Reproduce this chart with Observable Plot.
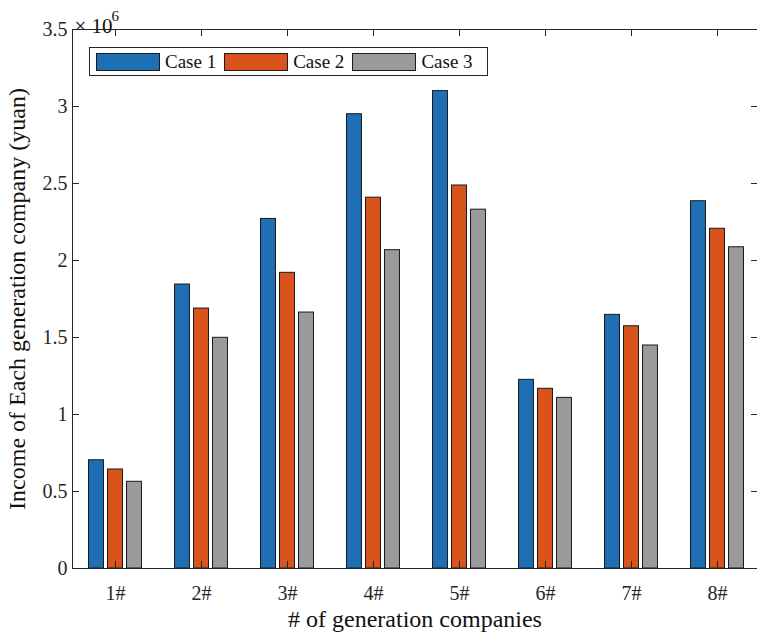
<!DOCTYPE html>
<html>
<head>
<meta charset="utf-8">
<script src="https://cdn.jsdelivr.net/npm/d3@7"></script>
<script src="https://cdn.jsdelivr.net/npm/@observablehq/plot@0.6"></script>
<style>
  html, body { margin: 0; padding: 0; background: #fff; }
  #wrap { position: relative; width: 757px; height: 637px; overflow: hidden; font-family: "Liberation Serif", "Times New Roman", serif; }
  #legend { position: absolute; left: 89px; top: 47px; border: 1px solid #262626; background: #fff;
            display: flex; align-items: center; padding-left: 6px; box-sizing: border-box; width: 399px; height: 29px; }
  .item { display: flex; align-items: center; margin-right: 8px; }
  .sw { border: 1px solid #1a1a1a; box-sizing: border-box; width: 64px; height: 18px; }
  .lbl { margin-left: 5px; font-size: 19px; color: #111; line-height: 1; }
</style>
</head>
<body>
<div id="wrap"></div>
<script>
// ---- data ----
const companies = ["1#", "2#", "3#", "4#", "5#", "6#", "7#", "8#"];
const cases = ["Case 1", "Case 2", "Case 3"];
const case1 = [703000, 1844000, 2270000, 2950000, 3100000, 1225000, 1647000, 2385000];
const case2 = [643000, 1688000, 1920000, 2408000, 2487000, 1167000, 1573000, 2206000];
const case3 = [563000, 1498000, 1662000, 2067000, 2330000, 1108000, 1448000, 2086000];
const colors = ["#1f6fb4", "#d9541a", "#9a9a9a"];
const yTicks = [0, 500000, 1000000, 1500000, 2000000, 2500000, 3000000, 3500000];

// ---- grouped table ----
const series = [case1, case2, case3];
const gap = 0.221, half = 0.087;
const rows = [];
series.forEach((vals, k) => vals.forEach((v, i) => {
  const c = (i + 1) + (k - 1) * gap;
  rows.push({company: companies[i], case: cases[k], value: v, x1: c - half, x2: c + half});
}));
const xTicks = companies.map((_, i) => i + 1);
const axisColor = "#262626";

const chart = Plot.plot({
  width: 757,
  height: 637,
  marginLeft: 72,
  marginRight: 0,
  marginTop: 29,
  marginBottom: 69,
  style: {fontFamily: "'Liberation Serif', 'Times New Roman', serif", fontSize: "20px", color: axisColor, background: "#fff", overflow: "visible"},
  x: {domain: [0.5, 8.5], range: [72, 760]},
  y: {domain: [0, 3500000], range: [568, 29]},
  color: {domain: cases, range: colors},
  marks: [
    Plot.rectY(rows, {x1: "x1", x2: "x2", y: "value", fill: "case", stroke: "#1a1a1a", strokeWidth: 1}),
    // box lines
    Plot.ruleY([0, 3500000], {stroke: axisColor, strokeWidth: 1}),
    Plot.ruleX([0.5], {stroke: axisColor, strokeWidth: 1}),
    // x axis: labels + inward ticks (bottom and top)
    Plot.axisX(xTicks, {anchor: "bottom", tickSize: -7, tickPadding: 24, tickFormat: (d) => companies[d - 1], label: null, stroke: axisColor, fill: axisColor, fontSize: 20}),
    Plot.axisX(xTicks, {anchor: "top", tickSize: -6, fill: "none", label: null, stroke: axisColor}),
    // y axis: labels + inward ticks (left and right)
    Plot.axisY(yTicks, {anchor: "left", tickSize: -7, tickPadding: 12, tickFormat: (d) => d3.format("")(d / 1e6), label: null, stroke: axisColor, fill: axisColor, fontSize: 20}),
    Plot.axisY(yTicks, {anchor: "right", tickSize: -7, fill: "none", label: null, stroke: axisColor}),
    // axis titles
    Plot.text(["# of generation companies"], {frameAnchor: "bottom", dy: 58, fontSize: 24, fill: "#111", textAnchor: "middle"}),
    Plot.text(["Income of Each generation company (yuan)"], {frameAnchor: "left", dx: -55, rotate: -90, fontSize: 24, fill: "#111", textAnchor: "middle"}),
    // exponent
    Plot.text(["\u00d7 10"], {frameAnchor: "top-left", dx: 2, dy: -11, textAnchor: "start", fontSize: 21, fill: "#111"}),
    Plot.text(["6"], {frameAnchor: "top-left", dx: 39, dy: -19, textAnchor: "start", fontSize: 15, fill: "#111"})
  ]
});

const wrap = document.getElementById("wrap");
wrap.appendChild(chart);

// legend
const legend = document.createElement("div");
legend.id = "legend";
cases.forEach((c, k) => {
  const item = document.createElement("div");
  item.className = "item";
  const sw = document.createElement("div");
  sw.className = "sw";
  sw.style.background = colors[k];
  const lbl = document.createElement("span");
  lbl.className = "lbl";
  lbl.textContent = c;
  item.appendChild(sw);
  item.appendChild(lbl);
  legend.appendChild(item);
});
wrap.appendChild(legend);
</script>
</body>
</html>
